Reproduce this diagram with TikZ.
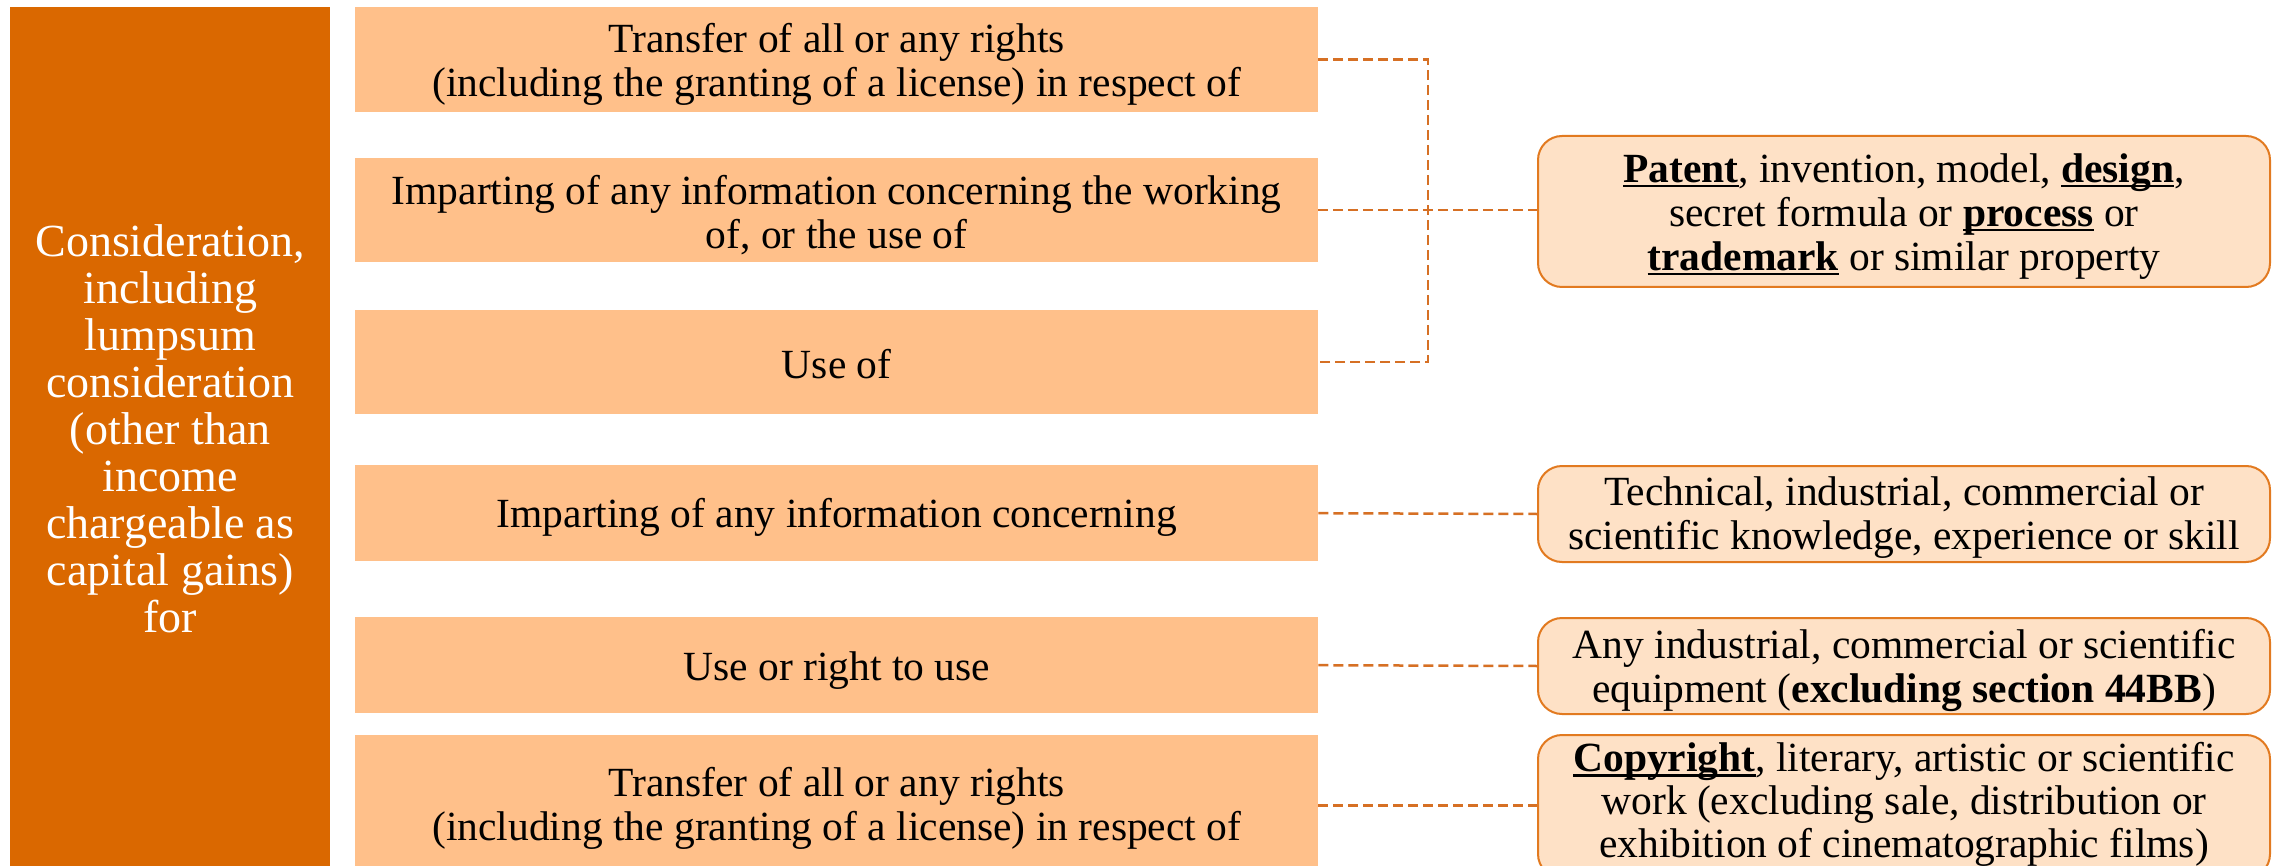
\documentclass[tikz,border=0pt]{standalone}
\usepackage{fontspec}
\setmainfont{Liberation Serif}
\definecolor{darkor}{RGB}{218,104,0}
\definecolor{midor}{RGB}{255,192,138}
\definecolor{lightor}{RGB}{254,225,198}
\definecolor{edgeor}{RGB}{226,122,32}
\definecolor{dashor}{RGB}{214,112,36}
\newcommand\ulbold[1]{\setbox0\hbox{\textbf{#1}}\rlap{\rule[-0.12em]{\wd0}{0.065em}}\box0\relax}
\begin{document}
\begin{tikzpicture}[x=1pt,y=-1pt,
  midbox/.style={fill=midor, draw=none, inner sep=0pt, minimum width=963pt, anchor=north west},
  rbox/.style={fill=lightor, draw=edgeor, line width=2pt, rounded corners=24pt, inner sep=0pt,
    minimum width=732pt, anchor=north west},
  btext/.style={align=center, inner sep=0pt, font=\fontsize{41.5}{44}\selectfont},
  lbox/.style={fill=darkor, draw=none, inner sep=0pt, minimum width=320pt, minimum height=869pt, anchor=north west},
  ltext/.style={text=white, align=center, font=\fontsize{46}{47}\selectfont},
  conn/.style={draw=dashor, line width=2.5pt, dash pattern=on 10pt off 5pt}]
\clip (0,0) rectangle (2272,866);
\useasboundingbox (0,0) rectangle (2272,866);
\fill[white] (0,0) rectangle (2272,866);
\node[lbox] (left) at (10,7) {};
\node[ltext] (lt) at ([yshift=13pt]left.center) {Consideration,\\ including\\ lumpsum\\ consideration\\ (other than\\ income\\ chargeable as\\ capital gains)\\ for};
% middle boxes
\node[midbox, minimum height=105pt] (b1) at (355,7) {};
\node[midbox, minimum height=104pt] (b2) at (355,158) {};
\node[midbox, minimum height=104pt] (b3) at (355,310) {};
\node[midbox, minimum height=96pt] (b4) at (355,465) {};
\node[midbox, minimum height=96pt] (b5) at (355,617) {};
\node[midbox, minimum height=141pt] (b6) at (355,735) {};
\node[btext] (t1) at ([yshift=-5pt]b1.center) {Transfer of all or any rights\\ (including the granting of a license) in respect of};
\node[btext] (t2) at ([yshift=-5pt]b2.center) {Imparting of any information concerning the working\\ of, or the use of};
\node[btext] (t3) at ([yshift=-2pt]b3.center) {Use of};
\node[btext] (t4) at ([yshift=-4pt]b4.center) {Imparting of any information concerning};
\node[btext] (t5) at ([yshift=-5pt]b5.center) {Use or right to use};
\node[btext] (t6) at ([yshift=-3pt]b6.center) {Transfer of all or any rights\\ (including the granting of a license) in respect of};
% right boxes
\node[rbox, minimum height=151pt] (r1) at (1537,135) {};
\node[rbox, minimum height=96pt] (r2) at (1537,465) {};
\node[rbox, minimum height=96pt] (r3) at (1537,617) {};
\node[rbox, minimum height=143pt] (r4) at (1537,734) {};
\node[btext] (s1) at ([yshift=-5pt]r1.center) {\ulbold{Patent}, invention, model, \ulbold{design},\\ secret formula or \ulbold{process} or\\ \ulbold{trademark} or similar property};
\node[btext] (s2) at ([yshift=-4pt]r2.center) {Technical, industrial, commercial or\\ scientific knowledge, experience or skill};
\node[btext] (s3) at ([yshift=-4pt]r3.center) {Any industrial, commercial or scientific\\ equipment (\textbf{excluding section 44BB})};
\node[btext, font=\fontsize{41.5}{43}\selectfont] (s4) at ([yshift=2pt]r4.center) {\ulbold{Copyright}, literary, artistic or scientific\\ work (excluding sale, distribution or\\ exhibition of cinematographic films)};
% connectors
\coordinate (j) at (1428,0);
\draw[conn] (b1.east) -- (b1.east -| j) -- (b3.east -| j) -- (b3.east);
\draw[conn] (b2.east) -- (b2.east -| r1.west);
\draw[conn] (b4.east) -- (r2.west);
\draw[conn] (b5.east) -- (r3.west);
\draw[conn] (b6.east) -- (b6.east -| r4.west);
\end{tikzpicture}
\end{document}
